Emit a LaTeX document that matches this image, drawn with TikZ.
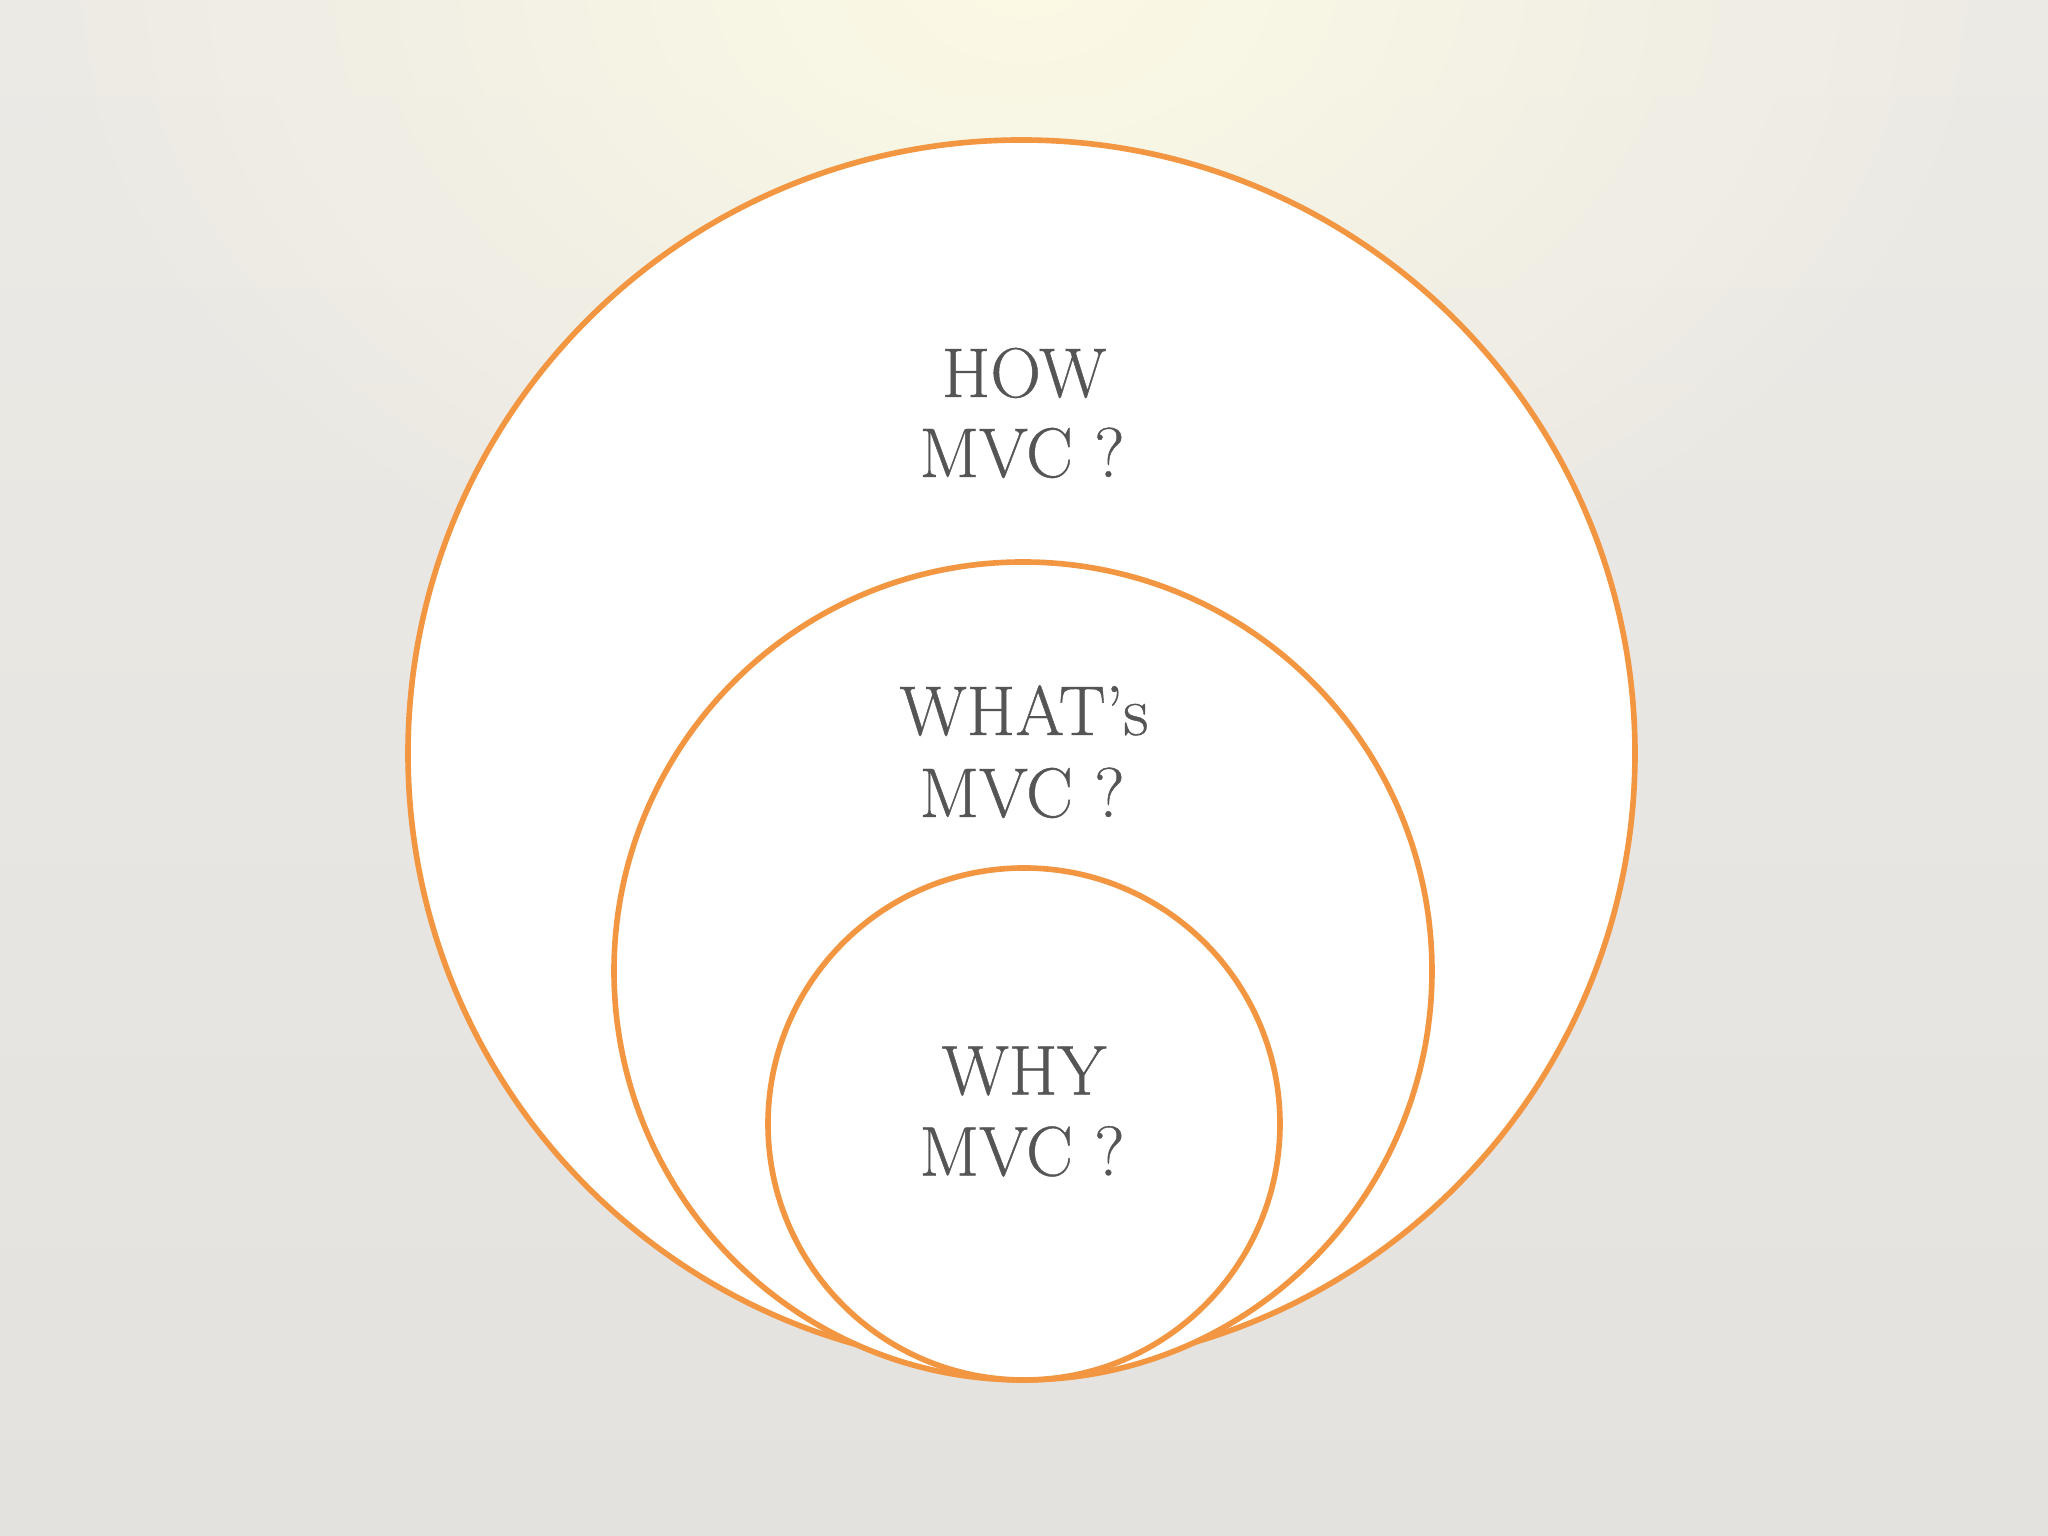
\documentclass[tikz,border=0pt]{standalone}
\usepackage{fontspec}
\setmainfont{Latin Modern Roman}[FakeBold=0.6]
\usetikzlibrary{fadings}
\definecolor{ringorange}{HTML}{F39642}
\definecolor{labelgrey}{HTML}{555555}
\definecolor{bgtop}{HTML}{ECEAE5}
\definecolor{bgbottom}{HTML}{E4E2DF}
\definecolor{glow}{HTML}{FCFAE4}
\tikzfading[name=glowfade,inner color=transparent!0,outer color=transparent!100]
\tikzset{%
    ring/.style={draw=ringorange,line width=1.6pt,fill=white},
    lbl/.style={anchor=base,inner sep=0pt,text=labelgrey,font=\fontsize{20}{24}\selectfont}
}

\begin{document}
\begin{tikzpicture}
        % background
        \useasboundingbox (0,0) rectangle (20.48,15.36);
        \shade[top color=bgtop,bottom color=bgbottom] (0,0) rectangle (20.48,15.36);
        \fill[glow,path fading=glowfade] (10.24,15.6) ellipse (10 and 7);
        % rings, the two inner ones touching at the bottom
        \draw[ring] (10.215,7.825) circle (6.135);
        \draw[ring] (10.23,5.65) circle (4.09);
        \draw[ring] (10.24,4.12) circle (2.56);
        % labels
        \node[lbl] (how) at (10.24,11.39) {HOW};
        \node[lbl] (howmvc) at (10.22,10.59) {MVC ?};
        \node[lbl] (what) at (10.24,8.01) {WHAT’s};
        \node[lbl] (whatmvc) at (10.22,7.19) {MVC ?};
        \node[lbl] (why) at (10.24,4.415) {WHY};
        \node[lbl] (whymvc) at (10.22,3.605) {MVC ?};
\end{tikzpicture}
\end{document}
